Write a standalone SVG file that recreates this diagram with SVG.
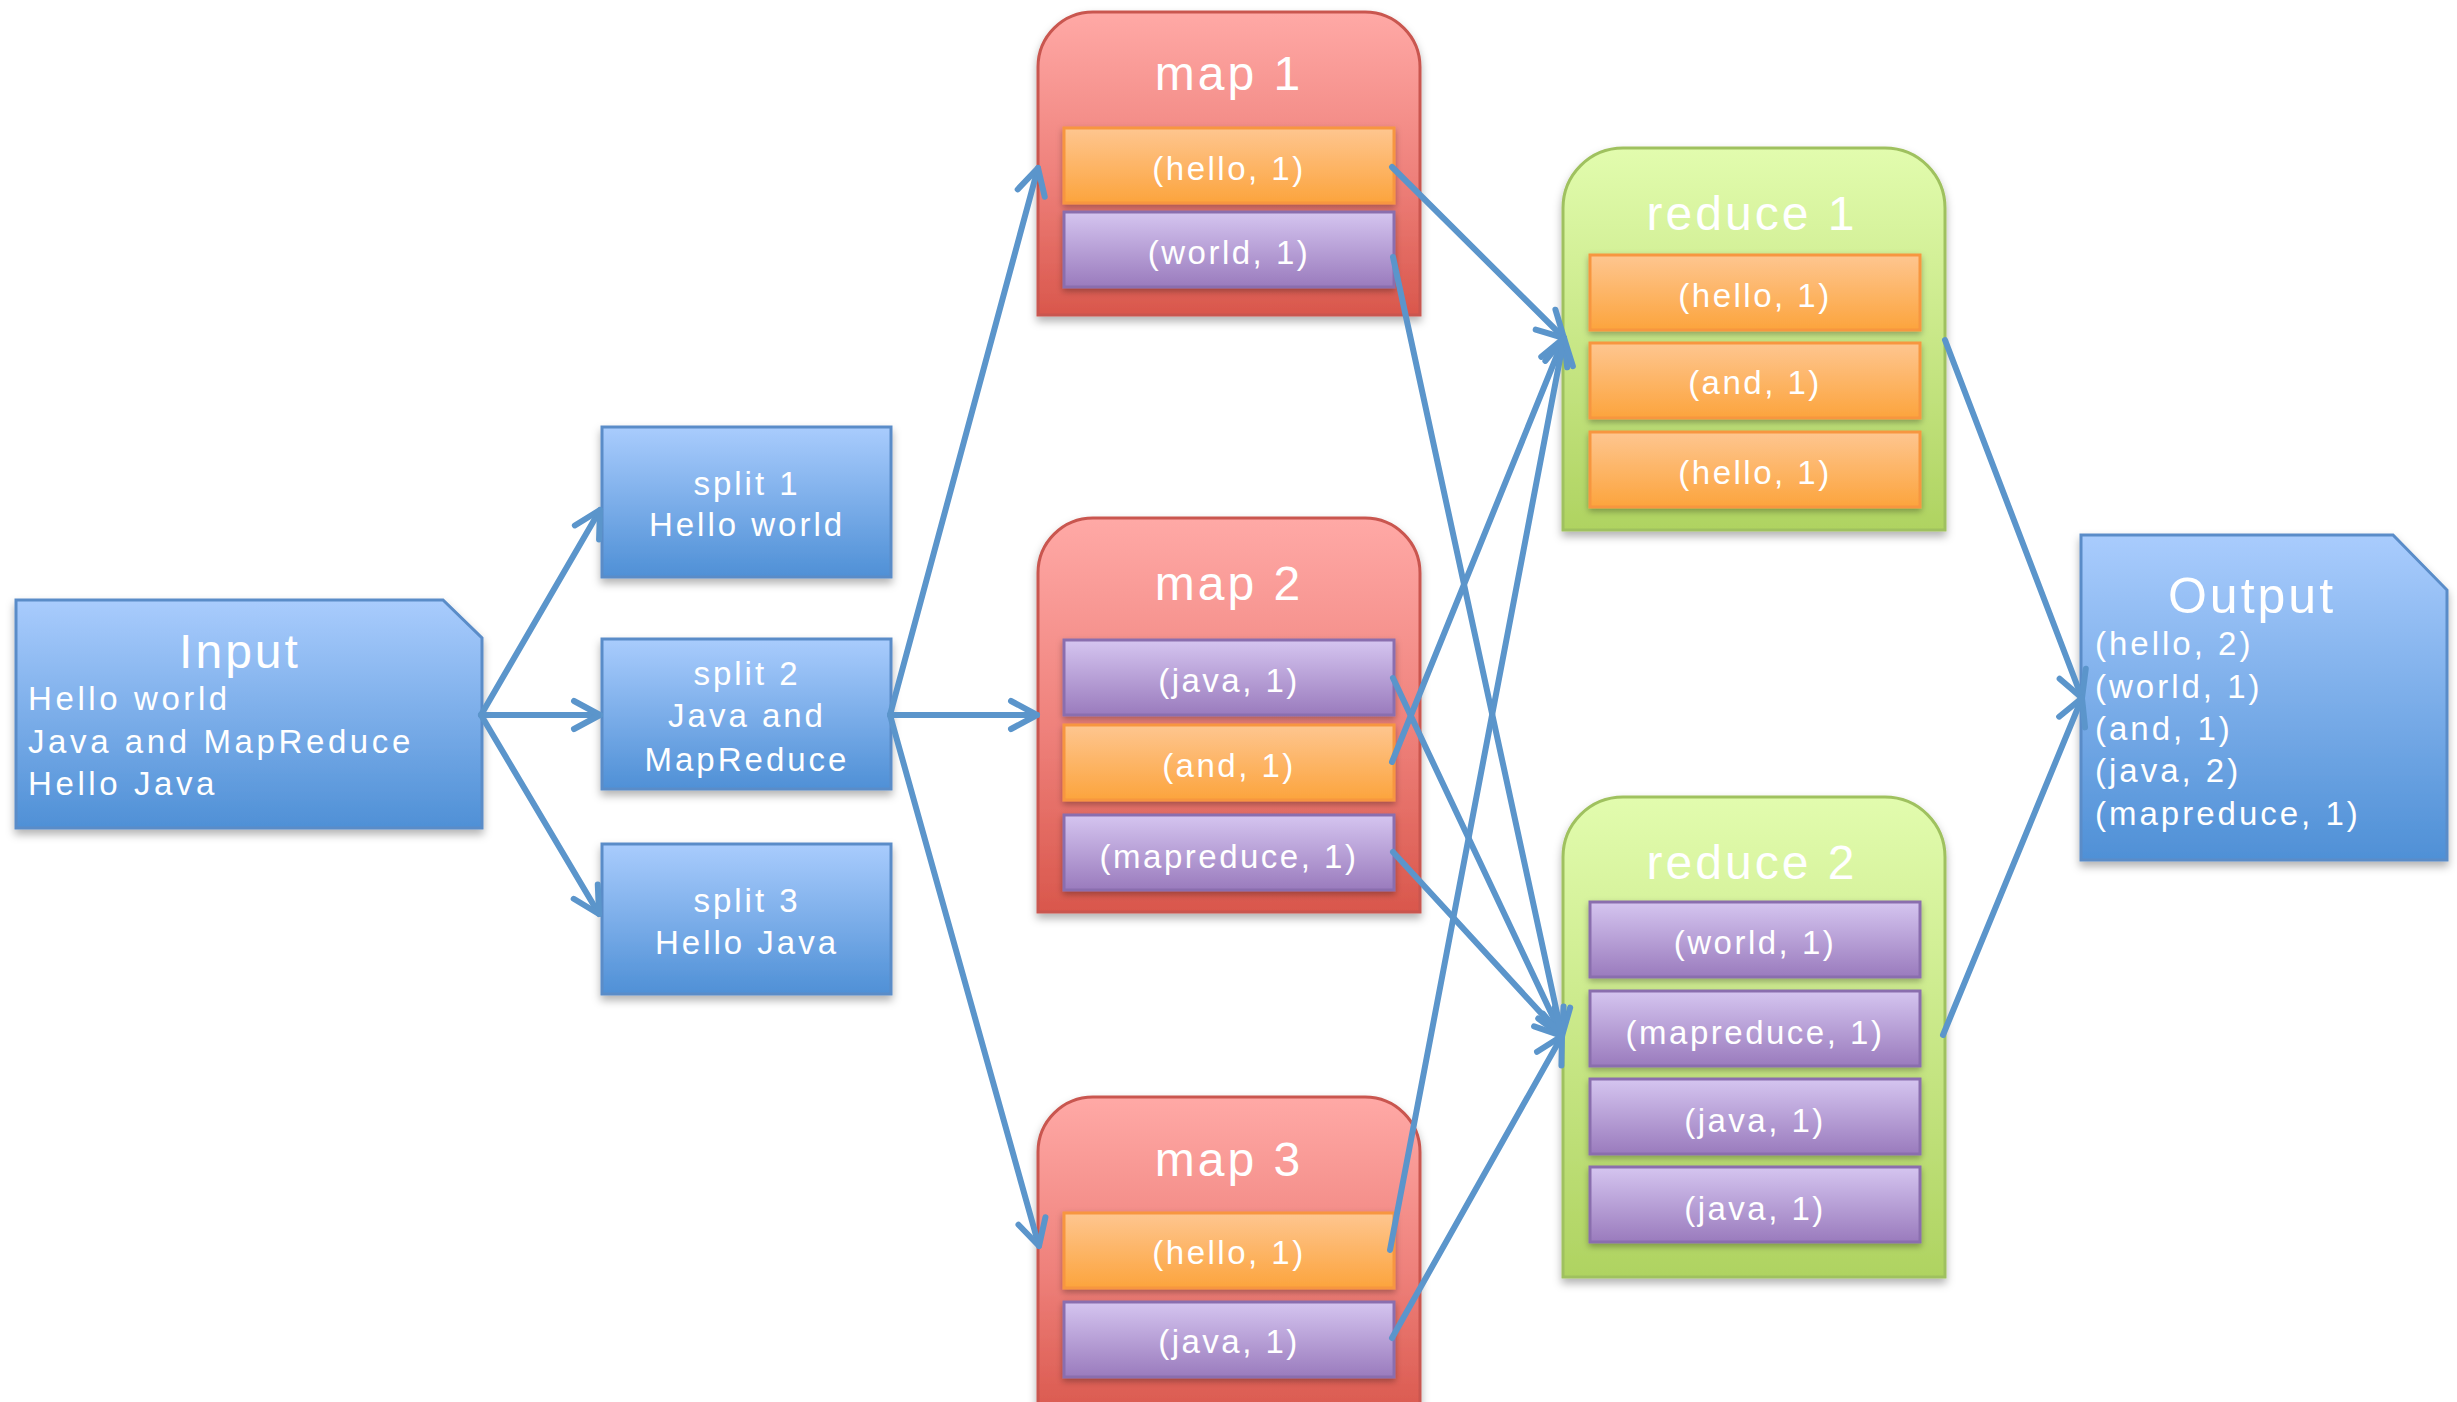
<svg xmlns="http://www.w3.org/2000/svg" width="2457" height="1402" viewBox="0 0 2457 1402">
<defs>
<style>
.t{font-family:"Liberation Sans",Arial,sans-serif;fill:#ffffff}
.title{font-size:48px;letter-spacing:3px;text-anchor:middle}
.pair{font-size:33px;letter-spacing:2.5px;text-anchor:middle}
.body{font-size:33px;letter-spacing:3px}
.in{font-size:33px;letter-spacing:3.6px}
.ol{font-size:33px;letter-spacing:3px}
.mid{text-anchor:middle}
.blue{fill:url(#gBlue);stroke:#5a8cc8;stroke-width:3;filter:url(#sh)}
.map{fill:url(#gRed);stroke:#c9564f;stroke-width:3;filter:url(#sh)}
.red{fill:url(#gGreen);stroke:#9fc15e;stroke-width:3;filter:url(#sh)}
.or{fill:url(#gOrange);stroke:#f7963f;stroke-width:3;filter:url(#sh2)}
.pu{fill:url(#gPurple);stroke:#8a6eae;stroke-width:3;filter:url(#sh2)}
.cn{fill:none;stroke:#5b95cb;stroke-width:6;stroke-linecap:round;marker-end:url(#ah)}
</style>
<linearGradient id="gBlue" x1="0" y1="0" x2="0" y2="1"><stop offset="0" stop-color="#a9ccfd"/><stop offset="1" stop-color="#4f90d6"/></linearGradient>
<linearGradient id="gRed" x1="0" y1="0" x2="0" y2="1"><stop offset="0" stop-color="#ffa9a6"/><stop offset="0.55" stop-color="#ee807a"/><stop offset="1" stop-color="#d9574c"/></linearGradient>
<linearGradient id="gGreen" x1="0" y1="0" x2="0" y2="1"><stop offset="0" stop-color="#e2fcae"/><stop offset="1" stop-color="#afd361"/></linearGradient>
<linearGradient id="gOrange" x1="0" y1="0" x2="0" y2="1"><stop offset="0" stop-color="#fec690"/><stop offset="1" stop-color="#fca43d"/></linearGradient>
<linearGradient id="gPurple" x1="0" y1="0" x2="0" y2="1"><stop offset="0" stop-color="#d5c5f0"/><stop offset="1" stop-color="#9a7bbd"/></linearGradient>
<filter id="sh" x="-10%" y="-10%" width="120%" height="125%"><feDropShadow dx="0" dy="5" stdDeviation="4" flood-color="#000" flood-opacity="0.3"/></filter>
<filter id="sh2" x="-10%" y="-20%" width="120%" height="150%"><feDropShadow dx="0" dy="3" stdDeviation="3" flood-color="#000" flood-opacity="0.3"/></filter>
<marker id="ah" markerUnits="userSpaceOnUse" markerWidth="60" markerHeight="60" viewBox="-40 -30 60 60" refX="0" refY="0" orient="auto" overflow="visible">
<path d="M-26,-14 L0,0 L-26,14" fill="none" stroke="#5b95cb" stroke-width="6" stroke-linecap="round" stroke-linejoin="round"/>
</marker>
</defs>
<rect width="2457" height="1402" fill="#ffffff"/>

<g id="input">
<path class="blue" d="M16,600 H443 L482,638 V828 H16 Z"/>
<text class="t title" x="240" y="668">Input</text>
<text class="t in" x="28" y="710">Hello world</text>
<text class="t in" x="28" y="753">Java and MapReduce</text>
<text class="t in" x="28" y="795">Hello Java</text>
</g>

<g id="split1">
<rect class="blue" x="602" y="427" width="289" height="150"/>
<text class="t body mid" x="747" y="495">split 1</text>
<text class="t body mid" x="747" y="536">Hello world</text>
</g>
<g id="split2">
<rect class="blue" x="602" y="639" width="289" height="150"/>
<text class="t body mid" x="747" y="685">split 2</text>
<text class="t body mid" x="747" y="727">Java and</text>
<text class="t body mid" x="747" y="771">MapReduce</text>
</g>
<g id="split3">
<rect class="blue" x="602" y="844" width="289" height="150"/>
<text class="t body mid" x="747" y="912">split 3</text>
<text class="t body mid" x="747" y="954">Hello Java</text>
</g>

<g id="map1">
<path class="map" d="M1038,67 A55,55 0 0 1 1093,12 H1365 A55,55 0 0 1 1420,67 V315 H1038 Z"/>
<text class="t title" x="1229" y="90">map 1</text>
<rect class="or" x="1064" y="128" width="330" height="75"/>
<text class="t pair" x="1229" y="180">(hello, 1)</text>
<rect class="pu" x="1064" y="212" width="330" height="75"/>
<text class="t pair" x="1229" y="264">(world, 1)</text>
</g>

<g id="map2">
<path class="map" d="M1038,573 A55,55 0 0 1 1093,518 H1365 A55,55 0 0 1 1420,573 V912 H1038 Z"/>
<text class="t title" x="1229" y="600">map 2</text>
<rect class="pu" x="1064" y="640" width="330" height="75"/>
<text class="t pair" x="1229" y="692">(java, 1)</text>
<rect class="or" x="1064" y="725" width="330" height="75"/>
<text class="t pair" x="1229" y="777">(and, 1)</text>
<rect class="pu" x="1064" y="815" width="330" height="75"/>
<text class="t pair" x="1229" y="868">(mapreduce, 1)</text>
</g>

<g id="map3">
<path class="map" d="M1038,1152 A55,55 0 0 1 1093,1097 H1365 A55,55 0 0 1 1420,1152 V1420 H1038 Z"/>
<text class="t title" x="1229" y="1176">map 3</text>
<rect class="or" x="1064" y="1213" width="330" height="75"/>
<text class="t pair" x="1229" y="1264">(hello, 1)</text>
<rect class="pu" x="1064" y="1302" width="330" height="75"/>
<text class="t pair" x="1229" y="1353">(java, 1)</text>
</g>

<g id="reduce1">
<path class="red" d="M1563,208 A60,60 0 0 1 1623,148 H1885 A60,60 0 0 1 1945,208 V530 H1563 Z"/>
<text class="t title" x="1752" y="230">reduce 1</text>
<rect class="or" x="1590" y="255" width="330" height="75"/>
<text class="t pair" x="1755" y="307">(hello, 1)</text>
<rect class="or" x="1590" y="343" width="330" height="75"/>
<text class="t pair" x="1755" y="394">(and, 1)</text>
<rect class="or" x="1590" y="432" width="330" height="75"/>
<text class="t pair" x="1755" y="484">(hello, 1)</text>
</g>

<g id="reduce2">
<path class="red" d="M1563,857 A60,60 0 0 1 1623,797 H1885 A60,60 0 0 1 1945,857 V1277 H1563 Z"/>
<text class="t title" x="1752" y="879">reduce 2</text>
<rect class="pu" x="1590" y="902" width="330" height="75"/>
<text class="t pair" x="1755" y="954">(world, 1)</text>
<rect class="pu" x="1590" y="991" width="330" height="75"/>
<text class="t pair" x="1755" y="1044">(mapreduce, 1)</text>
<rect class="pu" x="1590" y="1079" width="330" height="75"/>
<text class="t pair" x="1755" y="1132">(java, 1)</text>
<rect class="pu" x="1590" y="1167" width="330" height="75"/>
<text class="t pair" x="1755" y="1220">(java, 1)</text>
</g>

<g id="output">
<path class="blue" d="M2081,535 H2393 L2447,590 V860 H2081 Z"/>
<text class="t" x="2252" y="613" style="font-size:50px;letter-spacing:3px;text-anchor:middle">Output</text>
<text class="t ol" x="2095" y="655">(hello, 2)</text>
<text class="t ol" x="2095" y="698">(world, 1)</text>
<text class="t ol" x="2095" y="740">(and, 1)</text>
<text class="t ol" x="2095" y="782">(java, 2)</text>
<text class="t ol" x="2095" y="825">(mapreduce, 1)</text>
</g>

<g id="connectors">
<path class="cn" d="M481,715 L600,510"/>
<path class="cn" d="M481,715 L600,715"/>
<path class="cn" d="M481,715 L599,914"/>
<path class="cn" d="M890,715 L1038,168"/>
<path class="cn" d="M890,715 L1037,715"/>
<path class="cn" d="M890,715 L1039,1246"/>
<path class="cn" d="M1392,167 L1564,338"/>
<path class="cn" d="M1393,257 L1562,1036"/>
<path class="cn" d="M1393,678 L1562,1036"/>
<path class="cn" d="M1392,762 L1564,338"/>
<path class="cn" d="M1393,852 L1562,1036"/>
<path class="cn" d="M1390,1250 L1564,338"/>
<path class="cn" d="M1392,1338 L1562,1036"/>
<path class="cn" d="M1945,340 L2082,698"/>
<path class="cn" d="M1943,1035 L2082,698"/>
</g>
</svg>
